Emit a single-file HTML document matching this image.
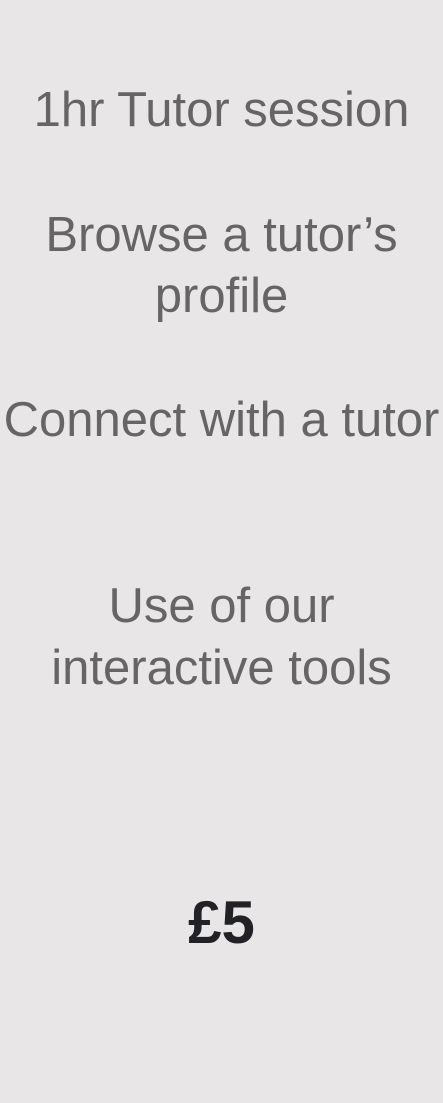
<!DOCTYPE html>
<html><head><meta charset="utf-8"><style>
html,body{margin:0;padding:0;}
body{width:443px;height:1103px;background:#e8e6e7;position:relative;overflow:hidden;font-family:"Liberation Sans",sans-serif;}
.t{position:absolute;left:0;width:443px;text-align:center;color:#666566;font-size:49px;line-height:61px;white-space:nowrap;}
.p{position:absolute;left:0;width:443px;text-align:center;color:#222226;font-size:60px;line-height:70px;font-weight:bold;}
</style></head><body>
<div class="t" style="top:80px">1hr Tutor session</div>
<div class="t" style="top:205px">Browse a tutor’s</div>
<div class="t" style="top:266px">profile</div>
<div class="t" style="top:390px">Connect with a tutor</div>
<div class="t" style="top:576px">Use of our</div>
<div class="t" style="top:638px">interactive tools</div>
<div class="p" style="top:888px">£5</div>
</body></html>
